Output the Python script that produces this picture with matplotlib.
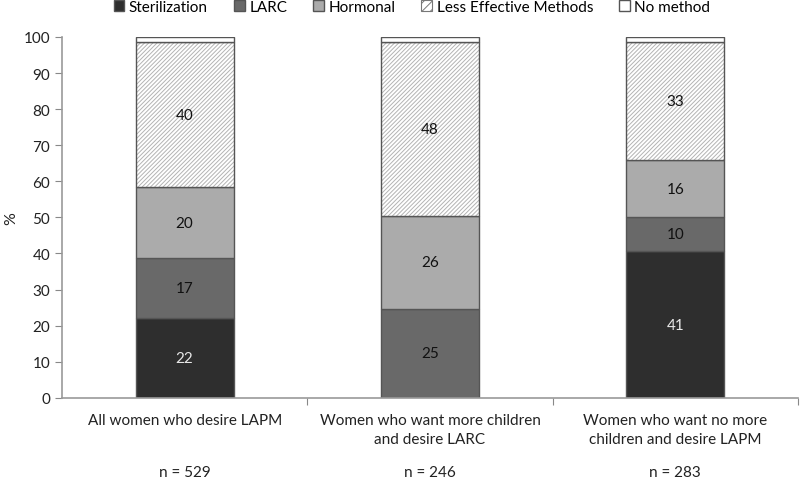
import numpy as np
import matplotlib.pyplot as plt
from matplotlib.transforms import blended_transform_factory

plt.rcParams['font.family'] = ['Lato', 'DejaVu Sans']
plt.rcParams['hatch.linewidth'] = 0.7

# data
groups = ['All women who desire LAPM',
          'Women who want more children\nand desire LARC',
          'Women who want no more\nchildren and desire LAPM']
n_labels = ['n = 529', 'n = 246', 'n = 283']
methods = ['Sterilization', 'LARC', 'Hormonal', 'Less Effective Methods', 'No method']
sterilization = [22.0, 0.0, 40.6]
larc = [16.6, 24.7, 9.6]
hormonal = [19.8, 25.6, 15.6]
less_effective = [40.1, 48.2, 32.7]
no_method = [1.5, 1.5, 1.5]

series = [sterilization, larc, hormonal, less_effective, no_method]
colors = ['#2e2e2e', '#696969', '#ababab', 'white', 'white']
hatches = [None, None, None, '////////', None]
text_colors = ['#e8e8e8', '#111111', '#111111', '#111111', None]

fig = plt.figure(figsize=(8, 4.81), dpi=100)
ax = fig.add_axes([0.0775, 0.171, 0.92, 0.75])

x = np.arange(len(groups))
bottom = np.zeros(len(groups))
handles = []
for vals, name, c, h, tc in zip(series, methods, colors, hatches, text_colors):
    vals = np.array(vals)
    if h:
        # light hatch first, then a dark outline on top
        ax.bar(x, vals, 0.4, bottom=bottom, color=c, hatch=h,
               edgecolor='#b3b3b3', linewidth=0)
        bars = ax.bar(x, vals, 0.4, bottom=bottom, fill=False,
                      edgecolor='#555555', linewidth=1.0, label=name)
        handles.append(plt.Rectangle((0, 0), 1, 1, facecolor=c, hatch='////',
                                     edgecolor='#777777', linewidth=0.8))
    else:
        bars = ax.bar(x, vals, 0.4, bottom=bottom, color=c,
                      edgecolor='#555555', linewidth=1.0, label=name)
        handles.append(bars)
    if tc is not None:
        for xi, v, b in zip(x, vals, bottom):
            if v > 0:
                ax.text(xi, b + v / 2, str(int(round(v))), ha='center', va='center',
                        fontsize=11, color=tc)
    bottom += vals

ax.set_xlim(-0.5, 2.5)
ax.set_ylim(0, 100)
ax.set_yticks(np.arange(0, 101, 10))
ax.set_ylabel('%', fontsize=11.5, color='#222222', labelpad=4)
ax.tick_params(axis='y', labelsize=11, colors='#888888', labelcolor='#222222',
               length=5, direction='out')

ax.set_xticks([0.5, 1.5, 2.5], minor=False)
ax.set_xticklabels([])
ax.tick_params(axis='x', length=5, colors='#888888')

trans = blended_transform_factory(ax.transData, ax.transAxes)
for xi, g, nl in zip(x, groups, n_labels):
    ax.text(xi, -0.042, g, transform=trans, ha='center', va='top',
            fontsize=11, color='#222222', linespacing=1.45)
    ax.text(xi, -0.205, nl, transform=trans, ha='center', va='center',
            fontsize=11, color='#222222')

for s in ['top', 'right']:
    ax.spines[s].set_visible(False)
for s in ['left', 'bottom']:
    ax.spines[s].set_color('#999999')
    ax.spines[s].set_linewidth(1.2)

fig.legend(handles=handles, labels=methods, loc='upper center',
           bbox_to_anchor=(0.515, 1.027), ncol=5, frameon=False,
           handlelength=0.7, handleheight=0.7, handletextpad=0.3,
           columnspacing=1.7, fontsize=11)

fig.savefig('out.png', dpi=100)
